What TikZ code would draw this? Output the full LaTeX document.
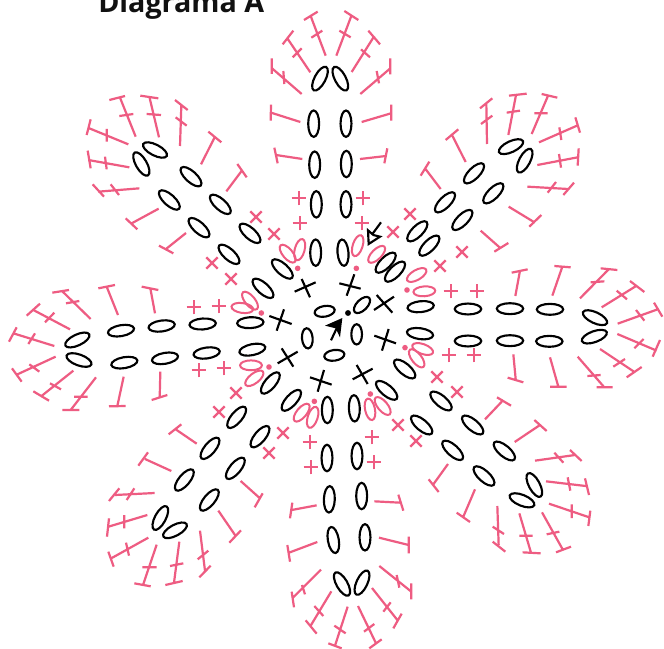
\documentclass[tikz,border=0pt]{standalone}
\usepackage{fontspec}
\setmainfont{Open Sans}
\definecolor{pinkst}{HTML}{EE5C82}
\definecolor{inkt}{HTML}{111111}
\tikzset{
 pk/.style={draw=pinkst,line width=1.65pt},
 ovl/.style={draw=black,line width=1.6pt},
 ovp/.style={draw=pinkst,line width=1.5pt},
 cr/.style={draw=black,line width=1.6pt},
 zoomed/.style={x=.25pt,y=-.25pt}
}
\newcommand\ov[3]{\draw[ovl,shift={(#1,#2)},rotate=#3] (0,0) ellipse [x radius=9.9pt,y radius=4.1pt];}
\newcommand\ovi[3]{\draw[ovl,shift={(#1,#2)},rotate=#3] (0,0) ellipse [x radius=7.6pt,y radius=4pt];}
\newcommand\ovk[3]{\draw[ovp,shift={(#1,#2)},rotate=#3] (0,0) ellipse [x radius=8.2pt,y radius=3.7pt];}
\newcommand\plusm[2]{\draw[pk,shift={(#1,#2)}] (-5.5pt,0)--(5.5pt,0) (0,-5.5pt)--(0,5.5pt);}
\newcommand\crossm[2]{\draw[pk,shift={(#1,#2)}] (-4.3pt,-4.3pt)--(4.3pt,4.3pt) (-4.3pt,4.3pt)--(4.3pt,-4.3pt);}
\newcommand\dotk[2]{\fill[pinkst] (#1,#2) circle [radius=2.1pt];}
\begin{document}
\begin{tikzpicture}[x=.75pt,y=-.75pt]
\useasboundingbox (0,0) rectangle (664,649);
\clip (0,0) rectangle (664,649);
\fill[white] (0,0) rectangle (664,649);
\node[anchor=base west,inner sep=0pt,text=inkt,font=\fontsize{21.5pt}{24pt}\selectfont\bfseries] (title) at (98,12.5) {Diagrama A};

% top petal
\begin{scope}[shift={(250,0)},zoomed]
\ov{210}{236}{62}\ov{271}{236}{118}\ov{191}{371}{90}\ov{288}{371}{90}\ov{194}{494}{90}\ov{289}{492}{90}
\draw[pk] (155,282)--(66,205) (65,175)--(65,222) (100,213)--(103,252);
\draw[pk] (181,217)--(112,115) (98,133)--(130,92) (128,172)--(155,145);
\draw[pk] (227,167)--(182,48) (162,60)--(203,35) (184,113)--(217,92);
\draw[pk] (259,167)--(305,45) (283,33)--(325,60) (268,92)--(302,112);
\draw[pk] (305,216)--(373,108) (355,92)--(390,133) (333,148)--(360,172);
\draw[pk] (331,282)--(421,205) (421,175)--(421,223) (380,213)--(387,250);
\draw[pk] (151,366)--(63,338) (63,314)--(62,362);
\draw[pk] (335,366)--(423,340) (424,314)--(424,362);
\draw[pk] (157,477)--(78,465) (73,443)--(83,490);
\draw[pk] (330,477)--(408,468) (412,445)--(403,490);
\end{scope}

% upper right petal
\begin{scope}[shift={(400,80)},zoomed]
\ov{333}{200}{25}\ov{374}{242}{62}\ov{222}{280}{45}\ov{280}{340}{45}\ov{135}{367}{45}\ov{187}{420}{45}\ov{52}{454}{45}\ov{88}{497}{45}
\draw[pk] (261,192)--(259,72) (240,85)--(277,55) (243,132)--(277,107);
\draw[pk] (325,165)--(348,45) (327,47)--(380,41) (320,98)--(360,92);
\draw[pk] (395,162)--(445,45) (425,42)--(472,53) (403,100)--(443,100);
\draw[pk] (417,187)--(531,137) (526,112)--(540,158) (478,142)--(484,180);
\draw[pk] (412,255)--(533,232) (536,205)--(533,257) (477,222)--(483,263);
\draw[pk] (382,320)--(505,327) (443,338)--(468,306) (490,345)--(522,308);
\draw[pk] (197,246)--(156,165) (137,180)--(175,148);
\draw[pk] (122,327)--(75,265) (62,287)--(88,245);
\draw[pk] (326,380)--(405,428) (388,440)--(424,405);
\draw[pk] (242,452)--(302,505) (283,515)--(325,489);
\end{scope}

% right petal
\begin{scope}[shift={(500,250)},zoomed]
\ov{285}{203}{-25}\ov{283}{260}{20}\ov{150}{178}{0}\ov{148}{274}{0}\ov{30}{176}{0}\ov{30}{272}{0}
\ov{-96}{177}{0}\ov{-96}{273}{0}
\draw[pk] (46,138)--(60,62) (35,68)--(83,58);
\draw[pk] (157,137)--(187,50) (163,48)--(212,52);
\draw[pk] (240,145)--(326,58) (302,55)--(352,60) (272,97)--(313,94);
\draw[pk] (305,172)--(410,107) (390,93)--(433,126) (350,122)--(381,148);
\draw[pk] (353,221)--(473,178) (462,158)--(487,200) (408,180)--(433,212);
\draw[pk] (352,252)--(470,302) (480,270)--(458,320) (403,295)--(431,267);
\draw[pk] (300,297)--(402,365) (380,382)--(425,351) (340,350)--(375,327);
\draw[pk] (233,320)--(313,412) (290,412)--(338,412) (262,378)--(302,375);
\draw[pk] (150,322)--(175,410) (150,410)--(200,410);
\draw[pk] (40,313)--(47,387) (23,383)--(70,397);
\end{scope}

% lower right petal
\begin{scope}[shift={(420,390)},zoomed]
\ov{63}{33}{-40}\ov{158}{105}{-40}\ov{253}{183}{-40}\ov{98}{181}{-42}\ov{192}{258}{-42}\ov{343}{285}{-62}\ov{306}{331}{-22}\ov{5}{105}{-40}
\draw[pk] (195,88)--(250,30) (231,22)--(273,47);
\draw[pk] (284,156)--(360,105) (343,90)--(380,123);
\draw[pk] (345,212)--(465,195) (450,180)--(485,213) (403,188)--(430,218);
\draw[pk] (378,274)--(497,288) (495,265)--(507,315) (443,262)--(451,302);
\draw[pk] (387,341)--(508,382) (511,362)--(505,408) (455,343)--(455,384);
\draw[pk] (366,367)--(428,478) (408,487)--(453,470) (380,433)--(418,425);
\draw[pk] (298,370)--(333,488) (308,487)--(362,490) (298,437)--(338,437);
\draw[pk] (232,348)--(236,465) (218,455)--(256,485) (218,410)--(252,432);
\draw[pk] (84,222)--(40,283) (26,268)--(56,306);
\draw[pk] (165,298)--(130,380) (110,368)--(150,396);
\end{scope}

% bottom petal
\begin{scope}[shift={(270,480)},zoomed]
\ov{178}{58}{88}\ov{275}{48}{90}\ov{190}{180}{100}\ov{285}{172}{90}\ov{216}{312}{120}\ov{276}{308}{65}
\ov{171}{-66}{90}\ov{261}{-72}{90}
\draw[pk] (140,76)--(65,90) (67,68)--(60,115);
\draw[pk] (313,64)--(390,68) (385,44)--(400,92);
\draw[pk] (142,186)--(57,218) (52,195)--(60,245);
\draw[pk] (327,173)--(416,195) (416,170)--(416,220);
\draw[pk] (153,269)--(67,355) (65,335)--(72,382) (96,315)--(105,343);
\draw[pk] (328,258)--(424,335) (424,310)--(424,358) (380,285)--(388,323);
\draw[pk] (184,334)--(122,437) (107,421)--(140,461) (133,378)--(160,408);
\draw[pk] (306,324)--(382,420) (395,401)--(370,445) (340,395)--(362,367);
\draw[pk] (233,380)--(195,497) (175,490)--(215,505) (193,437)--(227,460);
\draw[pk] (264,378)--(318,490) (335,478)--(298,505) (282,455)--(313,432);
\end{scope}

% lower left petal
\begin{scope}[shift={(90,400)},zoomed]
\ov{440}{52}{50}\ov{510}{110}{50}\ov{360}{145}{50}\ov{436}{205}{50}\ov{283}{240}{50}\ov{358}{300}{50}\ov{211}{354}{62}\ov{255}{391}{28}
\draw[pk] (320,131)--(257,88) (236,103)--(274,73);
\draw[pk] (244,213)--(165,177) (145,197)--(174,157);
\draw[pk] (194,279)--(75,285) (57,303)--(88,265) (110,300)--(133,265);
\draw[pk] (172,345)--(52,381) (57,355)--(51,410) (103,345)--(103,385);
\draw[pk] (175,413)--(60,477) (55,455)--(71,500) (108,428)--(117,467);
\draw[pk] (200,434)--(160,552) (133,550)--(182,559) (157,502)--(200,502);
\draw[pk] (268,425)--(252,548) (226,555)--(278,543) (240,498)--(280,490);
\draw[pk] (330,392)--(345,512) (328,532)--(362,497) (323,478)--(355,452);
\draw[pk] (385,332)--(435,405) (418,428)--(453,391);
\draw[pk] (452,243)--(510,295) (494,322)--(518,280);
\end{scope}

% left petal
\begin{scope}[shift={(0,270)},zoomed]
\ov{232}{210}{25}\ov{237}{270}{-20}\ov{363}{182}{10}\ov{373}{278}{10}\ov{485}{168}{8}\ov{495}{265}{10}
\ov{608}{162}{4}\ov{620}{249}{8}
\draw[pk] (465,130)--(451,55) (425,50)--(475,60);
\draw[pk] (354,135)--(320,50) (295,55)--(345,45);
\draw[pk] (272,147)--(186,63) (157,68)--(207,60) (198,100)--(238,93);
\draw[pk] (210,178)--(100,120) (80,137)--(120,101) (135,157)--(163,128);
\draw[pk] (163,228)--(40,190) (27,215)--(50,172) (85,222)--(105,190);
\draw[pk] (167,260)--(48,315) (36,295)--(65,335) (88,283)--(118,305);
\draw[pk] (220,302)--(122,380) (100,364)--(147,392) (150,340)--(183,358);
\draw[pk] (288,322)--(212,420) (187,420)--(238,420) (222,380)--(263,380);
\draw[pk] (371,320)--(352,408) (327,409)--(377,408);
\draw[pk] (481,305)--(479,385) (455,390)--(502,375);
\end{scope}

% upper left petal
\begin{scope}[shift={(80,85)},zoomed]
\ov{225}{195}{-27}\ov{184}{237}{-60}\ov{333}{275}{-42}\ov{268}{345}{-42}\ov{421}{358}{-42}\ov{357}{428}{-42}\ov{510}{445}{-42}\ov{447}{508}{-42}
\draw[pk] (300,183)--(304,60) (285,45)--(323,75) (287,97)--(320,122);
\draw[pk] (237,157)--(208,35) (181,32)--(235,40) (200,87)--(243,90);
\draw[pk] (167,155)--(120,38) (88,45)--(135,33) (118,93)--(160,87);
\draw[pk] (145,178)--(28,130) (32,103)--(20,150) (80,132)--(80,170);
\draw[pk] (148,247)--(25,225) (23,197)--(32,250) (75,215)--(80,253);
\draw[pk] (178,310)--(55,320) (38,298)--(72,335) (92,298)--(117,330);
\draw[pk] (236,371)--(155,415) (137,400)--(172,433);
\draw[pk] (318,444)--(258,492) (237,482)--(280,505);
\draw[pk] (363,238)--(405,155) (385,140)--(424,172);
\draw[pk] (439,319)--(487,255) (472,237)--(500,277);
\end{scope}

% centre
\begin{scope}[shift={(230,180)},zoomed]
\ov{259}{73}{90}\ov{348}{73}{90}\ov{257}{218}{90}\ov{339}{218}{95}
\ov{157}{267}{-42}\ov{99}{325}{-42}\ov{61}{428}{3}\ov{67}{509}{12}
\ov{121}{609}{50}\ov{184}{661}{48}\ov{292}{690}{90}\ov{373}{685}{92}
\ov{470}{631}{-40}\ov{524}{567}{-40}\ov{570}{461}{-8}\ov{572}{380}{6}
\ov{467}{248}{45}\ov{495}{275}{45}
\ovi{284}{394}{10}\ovi{396}{375}{45}\ovi{380}{463}{90}\ovi{313}{526}{8}\ovi{232}{475}{95}
\draw[cr] (194,335)--(257,307) (215,297)--(240,352);
\draw[cr] (328,310)--(392,326) (350,347)--(373,283);
\draw[cr] (432,390)--(492,350) (440,345)--(487,398);
\draw[cr] (433,467)--(498,490) (456,512)--(476,447);
\draw[cr] (368,598)--(428,566) (380,555)--(413,612);
\draw[cr] (240,592)--(305,614) (263,635)--(282,570);
\draw[cr] (143,550)--(203,515) (155,505)--(190,560);
\draw[cr] (118,408)--(185,432) (140,452)--(162,388);
\ovk{173}{221}{-50}\ovk{209}{209}{75}\dotk{203}{265}
\ovk{383}{197}{72}\ovk{440}{223}{45}\dotk{379}{265}
\ovk{560}{285}{30}\ovk{583}{334}{4}\dotk{531}{330}
\ovk{578}{507}{-20}\ovk{560}{535}{-52}\dotk{525}{503}
\ovk{420}{688}{-78}\ovk{458}{678}{-50}\dotk{421}{642}
\ovk{215}{698}{50}\ovk{248}{712}{72}\dotk{253}{664}
\ovk{63}{556}{0}\ovk{73}{595}{38}\dotk{117}{561}
\ovk{37}{384}{-8}\ovk{60}{362}{-50}\dotk{94}{399}
\fill[black] (354,399) circle [radius=2.2pt];
\fill[black] (337,414)--(285,437)--(317,445)--(330,472)--cycle;
\draw[cr] (303,481)--(320,445);
\draw[cr] (453,127)--(425,165);
\draw[cr,fill=white,line join=miter] (416,192)--(414,151)--(430,165)--(450,170)--cycle;
\end{scope}

% short stitches
\plusm{299}{198}\plusm{300}{223}\plusm{363}{198}\plusm{362}{223}
\plusm{451}{291}\plusm{477}{291}\plusm{449}{355}\plusm{474}{355}
\plusm{372}{437}\plusm{374}{462}\plusm{310}{442}\plusm{311}{467}
\plusm{199}{370}\plusm{224}{368}\plusm{194}{307}\plusm{219}{306}
\crossm{410}{214}\crossm{393}{232}\crossm{440}{266}\crossm{462}{252}
\crossm{437}{377}\crossm{457}{392}\crossm{398}{425}\crossm{416}{441}
\crossm{283}{433}\crossm{269}{453}\crossm{236}{393}\crossm{219}{412}
\crossm{231}{279}\crossm{212}{263}\crossm{274}{234}\crossm{256}{217}
\end{tikzpicture}
\end{document}
